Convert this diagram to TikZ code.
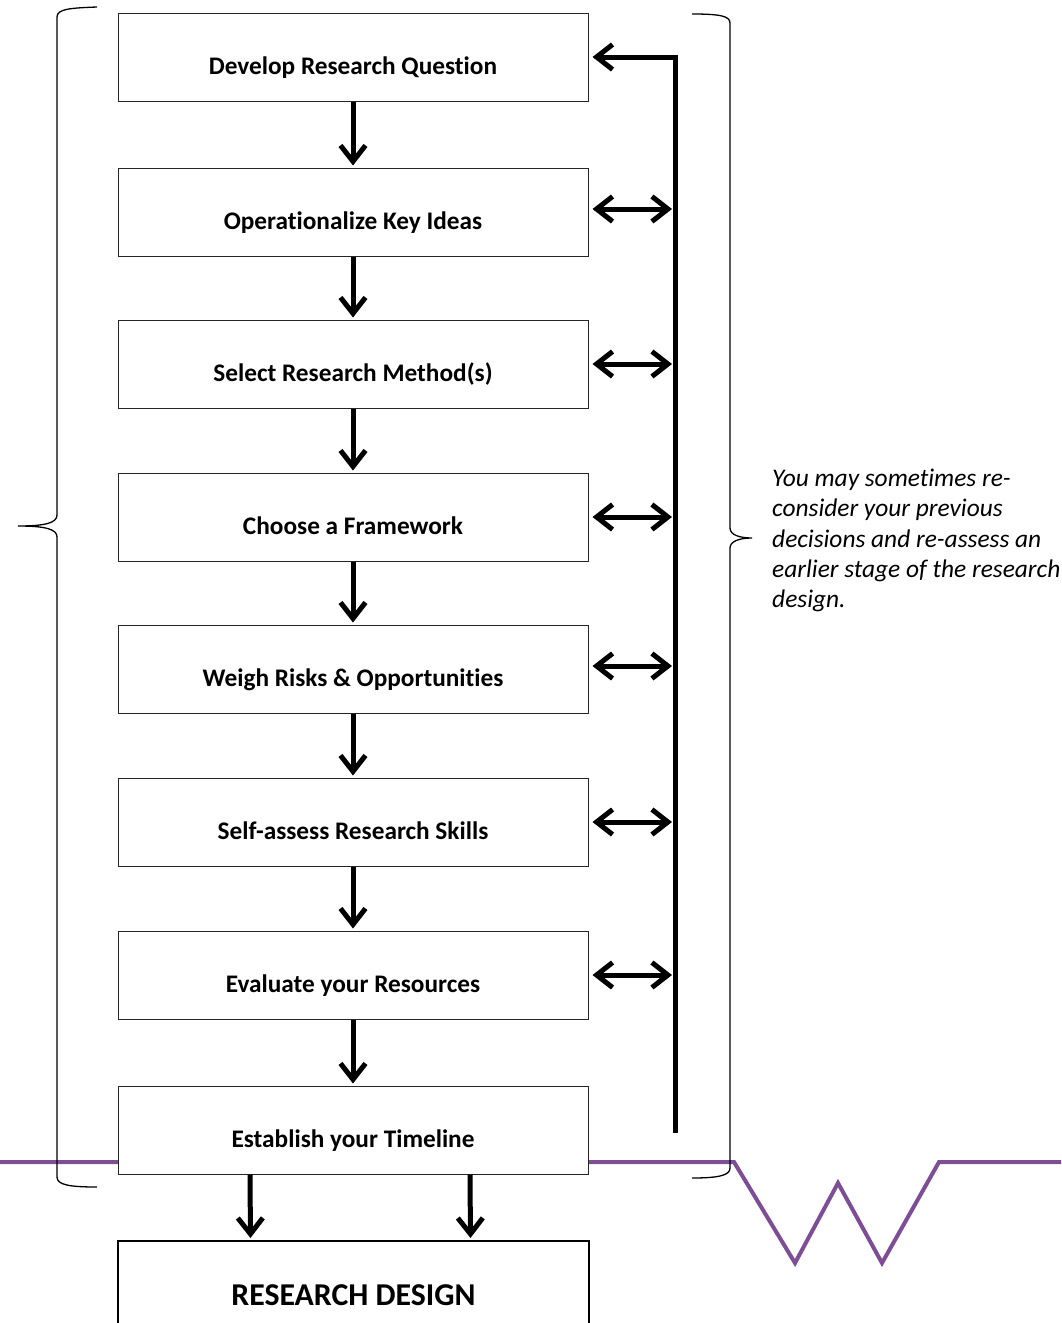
\documentclass[tikz,border=0pt]{standalone}
\usepackage{fontspec}
\setmainfont[Ligatures={NoCommon}]{Carlito}
\usetikzlibrary{arrows.meta, positioning}
\definecolor{zigpurple}{RGB}{125, 78, 150}
\tikzset{
  stepbox/.style={rectangle, draw=black!85, fill=white, line width=1pt, minimum width=470pt, minimum height=88pt, inner sep=0pt, text height=61pt, text depth=27pt, font=\fontsize{25.3}{29}\selectfont\bfseries},
  designbox/.style={rectangle, draw=black, fill=white, line width=2pt, minimum width=471pt, minimum height=120pt, inner sep=0pt, text height=64pt, text depth=56pt, font=\fontsize{31.8}{36}\selectfont\bfseries},
  flowarrow/.style={-{Straight Barb[length=16pt, width=25pt]}, line width=5pt, shorten >=2pt},
  backarrow/.style={{Straight Barb[length=16pt, width=25pt]}-{Straight Barb[length=16pt, width=25pt]}, line width=5pt, shorten <=4pt, shorten >=3pt},
  rail/.style={line width=5pt},
  bracket/.style={line width=1.3pt},
  zigzag/.style={draw=zigpurple, line width=4pt},
  remark/.style={anchor=north west, inner sep=0pt, align=left, font=\fontsize{25.4}{30.3}\selectfont\itshape}
}
\begin{document}
\begin{tikzpicture}[x=1pt, y=-1pt]
    \useasboundingbox (0,0) rectangle (1061,1323);

    % Purple zigzag behind the boxes
    \draw[zigzag] (0,1162) -- (734,1162) -- (795,1263) -- (838,1183) -- (882,1263) -- (939,1162) -- (1061,1162);

    % Steps of the research design
    \node[stepbox] (question) at (353,57) {Develop Research Question};
    \node[stepbox] (ideas) at (353,212) {Operationalize Key Ideas};
    \node[stepbox] (method) at (353,364) {Select Research Method(s)};
    \node[stepbox] (framework) at (353,517) {Choose a Framework};
    \node[stepbox] (risks) at (353,669) {Weigh Risks \& Opportunities};
    \node[stepbox] (skills) at (353,822) {Self-assess Research Skills};
    \node[stepbox] (resources) at (353,975) {Evaluate your Resources};
    \node[stepbox] (timeline) at (353,1130) {Establish your Timeline};
    \node[designbox] (design) at (353.5,1301) {RESEARCH DESIGN};

    % Downward flow
    \draw[flowarrow] (question) -- (ideas);
    \draw[flowarrow] (ideas) -- (method);
    \draw[flowarrow] (method) -- (framework);
    \draw[flowarrow] (framework) -- (risks);
    \draw[flowarrow] (risks) -- (skills);
    \draw[flowarrow] (skills) -- (resources);
    \draw[flowarrow] (resources) -- (timeline);
    \draw[flowarrow] ([xshift=-103pt]timeline.south) -- ([xshift=-103pt]design.north);
    \draw[flowarrow] ([xshift=117pt]timeline.south) -- ([xshift=117pt]design.north);

    % Feedback rail on the right
    \coordinate (railtop) at (675,55);
    \coordinate (railbot) at (675,1133);
    \draw[rail] (railtop) -- (railbot);
    \draw[flowarrow, shorten >=4pt] (question.east -| railtop) -- (question.east);
    \draw[backarrow] ([yshift=3pt]ideas.east) -- ([yshift=3pt]ideas.east -| railtop);
    \draw[backarrow] (method.east) -- (method.east -| railtop);
    \draw[backarrow] (framework.east) -- (framework.east -| railtop);
    \draw[backarrow] ([yshift=3pt]risks.east) -- ([yshift=3pt]risks.east -| railtop);
    \draw[backarrow] (skills.east) -- (skills.east -| railtop);
    \draw[backarrow] (resources.east) -- (resources.east -| railtop);

    % Braces
    \draw[bracket] (97,7) .. controls (70,8) and (57,9) .. (57,17) -- (57,515)
        .. controls (57,523) and (45,526) .. (18,526) .. controls (45,526) and (57,529) .. (57,537)
        -- (57,1177) .. controls (57,1185) and (70,1187) .. (97,1187);
    \draw[bracket] (692,14) .. controls (720,14) and (730,16) .. (730,23) -- (730,528)
        .. controls (730,535) and (740,538) .. (752,538) .. controls (740,538) and (730,541) .. (730,548)
        -- (730,1168) .. controls (730,1175) and (720,1178) .. (692,1178);

    \node[remark] (note) at (772,469) {You may sometimes re-\\consider your previous\\decisions and re-assess an\\earlier stage of the research\\design.};
\end{tikzpicture}
\end{document}
